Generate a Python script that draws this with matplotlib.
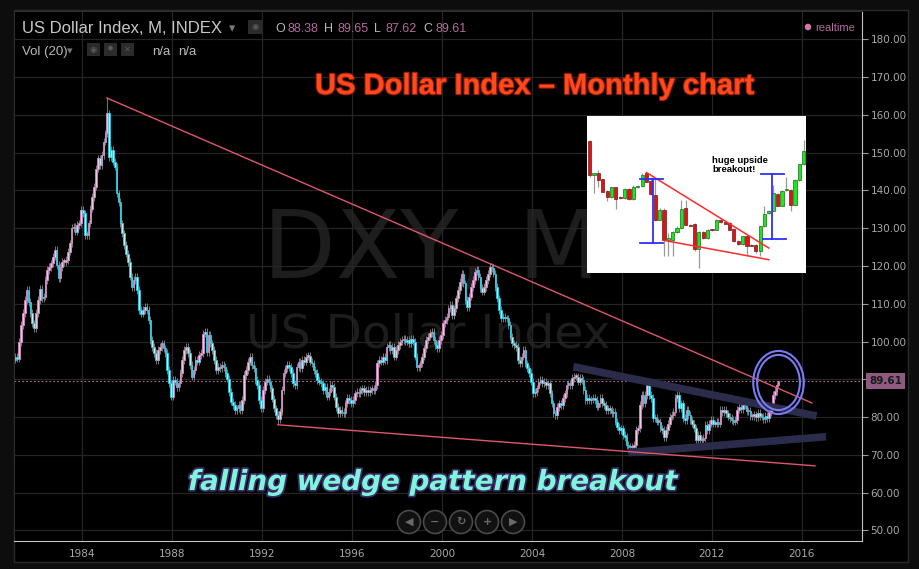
import numpy as np
import matplotlib.pyplot as plt
import matplotlib.patheffects as pe
from matplotlib.patches import Ellipse, Rectangle, Circle
from matplotlib.transforms import Affine2D

W, H = 920, 569

# DXY monthly closes, Jan 1981 .. Dec 2014
dxy_1980s = [
    96.0, 95.5, 99.9, 104.4, 107.5, 111.0, 113.6, 110.5, 107.5, 104.8, 103.5, 107.5,
    111.0, 114.0, 111.4, 111.9, 116.3, 118.9, 119.8, 120.7, 122.5, 124.2, 120.2, 116.7,
    119.8, 121.1, 121.1, 121.6, 123.8, 126.0, 130.0, 130.4, 129.1, 130.8, 131.3, 134.8,
    133.9, 128.2, 128.2, 131.3, 135.2, 138.3, 141.0, 145.8, 148.5, 146.7, 149.4, 152.9,
    155.1, 160.4, 148.9, 150.7, 147.6, 146.3, 139.2, 137.0, 131.3, 128.6, 125.5, 123.3,
    121.1, 117.2, 114.5, 116.3, 117.2, 113.6, 108.3, 107.4, 108.3, 109.2, 108.3, 105.7,
    100.4, 98.6, 96.9, 95.1, 97.7, 98.6, 99.5, 98.2, 96.9, 92.4, 88.9, 85.4,
    89.8, 89.4, 88.0, 88.9, 91.6, 95.1, 97.7, 98.6, 96.9, 93.8, 90.7, 92.4,
    95.1, 94.7, 96.4, 96.9, 102.1, 102.6, 97.3, 101.7, 99.5, 97.7, 95.1, 92.4,
]
dxy_1990s = [
    93.3, 92.9, 93.8, 93.3, 91.6, 90.2, 86.7, 84.1, 83.2, 81.9, 82.3, 83.2,
    81.9, 84.5, 91.1, 92.4, 94.7, 96.0, 93.8, 92.9, 89.8, 88.5, 84.5, 82.3,
    87.1, 89.4, 90.2, 89.4, 87.6, 84.9, 82.3, 80.5, 79.5, 81.5, 87.2, 91.6,
    92.9, 93.8, 93.3, 91.6, 88.9, 88.5, 93.3, 94.7, 92.9, 95.1, 94.7, 96.0,
    96.2, 94.7, 94.2, 92.5, 91.6, 89.8, 89.4, 88.9, 87.2, 88.0, 85.4, 86.7,
    88.5, 88.0, 85.4, 82.7, 81.0, 81.9, 81.4, 81.0, 83.6, 85.0, 84.5, 83.6,
    84.5, 86.3, 86.7, 86.3, 87.2, 87.6, 86.7, 87.2, 86.7, 87.2, 87.6, 87.2,
    88.5, 94.2, 95.1, 94.7, 96.0, 95.1, 98.6, 99.1, 97.8, 98.6, 96.0, 97.8,
    99.1, 100.0, 100.4, 100.8, 100.0, 100.4, 99.5, 100.6, 100.0, 96.0, 93.3, 93.3,
    94.2, 96.0, 98.2, 100.4, 101.3, 102.2, 102.6, 100.4, 99.1, 98.2, 100.4, 101.7,
]
dxy_2000s = [
    104.8, 105.7, 106.6, 108.8, 109.7, 107.0, 108.8, 111.4, 113.6, 115.8, 118.0, 115.4,
    111.0, 109.2, 111.9, 114.5, 116.3, 118.5, 118.9, 117.2, 114.1, 113.2, 114.5, 116.3,
    118.0, 119.8, 119.4, 118.0, 114.5, 111.4, 108.3, 106.1, 106.6, 106.1, 106.1, 104.4,
    101.3, 99.5, 99.1, 98.6, 95.1, 94.2, 96.0, 97.8, 94.2, 92.9, 91.6, 89.4,
    86.3, 86.7, 87.6, 89.4, 89.8, 88.9, 89.4, 88.5, 88.9, 86.3, 83.6, 81.0,
    80.5, 82.7, 83.6, 83.2, 85.0, 86.3, 88.5, 88.9, 88.5, 90.3, 90.7, 90.7,
    89.4, 90.3, 89.8, 87.2, 84.5, 85.0, 84.5, 84.7, 85.0, 84.5, 82.8, 83.6,
    85.0, 83.6, 83.2, 81.9, 82.3, 81.9, 81.0, 81.4, 78.8, 77.5, 76.6, 77.0,
    75.3, 74.8, 72.6, 72.2, 72.0, 72.2, 72.6, 76.6, 77.0, 83.2, 85.8, 83.6,
    85.8, 88.5, 85.8, 85.0, 79.7, 79.7, 78.8, 78.8, 77.0, 76.6, 74.8, 76.6,
]
dxy_2010s = [
    78.3, 80.1, 80.5, 81.4, 85.0, 85.8, 82.3, 83.6, 79.7, 79.2, 81.9, 80.5,
    79.2, 78.3, 77.0, 73.9, 75.3, 73.9, 73.9, 74.4, 77.9, 76.6, 78.3, 79.2,
    78.3, 78.3, 78.8, 78.3, 81.9, 81.4, 81.9, 81.0, 80.1, 79.7, 79.2, 78.8,
    79.2, 82.0, 82.8, 82.1, 83.3, 83.1, 81.5, 81.6, 80.2, 80.2, 80.7, 80.0,
    81.2, 80.2, 80.1, 79.5, 80.4, 79.8, 81.4, 82.5, 85.9, 86.9, 88.38, 89.61,
]
first_open = 95.2
peak_high = 164.7            # Feb 1985 high
low_1992 = 78.2              # Sep 1992 low
last_open, last_high, last_low, last_close = 88.38, 89.65, 87.62, 89.61

year_ticks = [1984, 1988, 1992, 1996, 2000, 2004, 2008, 2012, 2016]
price_ticks = list(range(50, 190, 10))

# drawn trendlines: (years, prices)
upper_wedge = ([1985.11, 2016.44], [164.46, 83.75])
lower_wedge = ([1992.71, 2016.58], [77.96, 67.10])
upper_band = ([2005.84, 2016.65], [93.34, 80.29])
lower_band = ([2008.28, 2017.07], [70.58, 74.81])

# inset picture: textbook falling wedge candles
ins_open = [81.6, 61.0, 62.4, 58.4, 51.6, 47.6, 53.6, 47.6, 47.0, 52.4,
            46.4, 53.6, 54.4, 62.0, 57.6, 49.0, 34.0, 40.0, 21.6, 22.0,
            26.4, 29.0, 40.8, 31.0, 31.6, 16.4, 26.8, 23.0, 28.0, 28.0,
            34.0, 32.4, 32.0, 28.4, 21.4, 19.4, 24.0, 19.0, 19.0, 15.0,
            30.0, 38.0, 39.4, 49.6, 42.4, 51.8, 52.0, 43.0, 58.0, 67.4]
ins_close = [61.0, 62.4, 58.0, 51.0, 47.6, 53.6, 46.4, 47.0, 52.4, 46.4,
             53.6, 54.4, 61.0, 57.0, 49.6, 34.0, 40.0, 21.6, 23.0, 26.4,
             29.0, 40.4, 31.0, 30.4, 16.4, 26.8, 23.0, 28.0, 27.6, 34.0,
             32.4, 31.6, 28.0, 21.0, 19.4, 24.0, 18.4, 18.4, 15.0, 30.0,
             37.4, 39.4, 50.4, 42.4, 51.4, 52.4, 43.0, 58.0, 67.4, 75.6]
ins_high = [82.0, 62.4, 64.0, 58.4, 52.0, 54.0, 54.0, 48.0, 53.0, 53.0,
            55.0, 55.0, 62.0, 62.4, 60.0, 59.0, 41.0, 41.0, 26.0, 27.0,
            30.0, 46.0, 46.0, 31.4, 32.0, 27.0, 27.2, 28.4, 28.4, 34.4,
            34.4, 32.8, 32.4, 28.8, 21.8, 24.4, 24.4, 19.4, 19.4, 30.4,
            42.0, 39.8, 55.0, 50.0, 51.8, 60.0, 52.4, 58.4, 67.8, 82.0]
ins_low = [60.0, 50.0, 54.0, 51.0, 45.0, 47.0, 40.4, 46.6, 46.6, 46.0,
           46.0, 53.4, 53.6, 56.6, 49.0, 33.0, 33.6, 12.0, 12.0, 12.0,
           26.0, 28.6, 30.6, 30.0, 15.0, 5.0, 22.6, 22.6, 27.2, 27.6,
           32.0, 31.2, 27.6, 20.6, 19.0, 19.0, 12.6, 18.0, 14.0, 12.0,
           29.6, 37.6, 39.0, 42.0, 42.0, 51.4, 39.0, 42.6, 57.6, 67.0]
ins_upper = ([13.0, 41.0], [62.4, 17.0])
ins_lower = ([17.0, 41.0], [21.6, 10.0])

fig = plt.figure(figsize=(W / 100, H / 100), dpi=100, facecolor='#0d0d0d')
# pixel transform, origin top-left
pix = Affine2D().scale(1 / 100, -1 / 100).translate(0, H / 100) + fig.dpi_scale_trans

fig.add_artist(Rectangle((14, 10), 894, 552, transform=pix, facecolor='black',
                         edgecolor='#2a2a2a', lw=1, zorder=-1))

ax = fig.add_axes([14 / W, 1 - 541 / H, (862 - 14) / W, (541 - 10.7) / H])
ax.set_facecolor('black')
ax.set_xlim(1980.98, 2018.67)
ax.set_ylim(47.2, 187.57)

closes = np.array(dxy_1980s + dxy_1990s + dxy_2000s + dxy_2010s)
opens = np.r_[first_open, closes[:-1]]
opens[-1] = last_open
t = 1981 + (np.arange(len(closes)) + 0.5) / 12
wick = 1.0
highs = np.maximum(opens, closes) + wick
lows = np.minimum(opens, closes) - wick
highs[-1], lows[-1] = last_high, last_low
highs[np.argmax(closes)] = peak_high
lows[np.argmin(closes[:200])] = low_1992

ax.vlines(t, lows, highs, color='#8c8c8c', lw=0.6, zorder=2)
up = closes >= opens
body_bottom = np.minimum(opens, closes)
body_h = np.maximum(np.abs(closes - opens), 0.4)
ax.bar(t[up], body_h[up], bottom=body_bottom[up], width=0.07,
       color='#efc3e4', edgecolor='#d08cc2', lw=0.6, zorder=3)
ax.bar(t[~up], body_h[~up], bottom=body_bottom[~up], width=0.07,
       color='#b4f4fb', edgecolor='#2cc8e2', lw=0.6, zorder=3)

# last price line + label
ax.axhline(last_close, color='#b06a92', lw=0.8, ls=(0, (1.5, 2)), zorder=1.5)
ax.annotate(f'{last_close:.2f}', xy=(1.0, last_close), xycoords=('axes fraction', 'data'),
            xytext=(5, 0), textcoords='offset points', va='center', ha='left',
            fontsize=7.5, color='#1a1a1a', fontweight='bold', annotation_clip=False,
            bbox=dict(boxstyle='square,pad=0.3', fc='#8e5a80', ec='none'), zorder=6)

# trendlines
ax.plot(*upper_band, color='#2b2b4a', lw=5.5, solid_capstyle='butt', zorder=4)
ax.plot(*lower_band, color='#2b2b4a', lw=5.5, solid_capstyle='butt', zorder=4)
ax.plot(*upper_wedge, color='#e0566c', lw=1.0, zorder=5)
ax.plot(*lower_wedge, color='#e0566c', lw=1.0, zorder=5)
for w_, h_ in [(2.25, 16.7), (1.90, 14.6)]:
    ax.add_patch(Ellipse((2014.96, 89.16), w_, h_, fill=False, ec='#7a7af2', lw=1.5, zorder=6))

# axes styling
ax.set_xticks(year_ticks)
ax.set_xticklabels([str(y) for y in year_ticks])
ax.yaxis.tick_right()
ax.set_yticks(price_ticks)
# the last-price tag hides the 90.00 label
ax.set_yticklabels(['' if v == 90 else f'{v:.2f}' for v in price_ticks])
ax.tick_params(axis='x', length=0, pad=6, labelsize=7.5, labelcolor='#a8a8a8')
ax.tick_params(axis='y', length=4, width=0.8, color='#9a9a9a', pad=2,
               labelsize=7.5, labelcolor='#a8a8a8')
ax.grid(True, color='#252525', lw=0.9)
ax.set_axisbelow(True)
for s in ['bottom', 'right']:
    ax.spines[s].set_color('#c4c4c4')
for s in ['top', 'left']:
    ax.spines[s].set_color('#2e2e2e')

# watermark
ax.text(263, 278, 'DXY, M', transform=pix, fontsize=68, color='#1d1d1d',
        family='DejaVu Sans', va='baseline', zorder=0.1)
ax.text(246, 348, 'US Dollar Index', transform=pix, fontsize=34, color='#1d1d1d',
        family='DejaVu Sans', va='baseline', zorder=0.1)

# header
hf = ['Liberation Sans', 'DejaVu Sans']
fig.text(22, 33, 'US Dollar Index, M, INDEX', transform=pix, fontsize=12,
         color='#c8c8c8', family=hf, va='baseline')
fig.text(229, 32, '\u25be', transform=pix, fontsize=9, color='#777777', va='baseline')
fig.add_artist(Rectangle((248, 20), 14, 14, transform=pix, fc='#2b2b2b', ec='none'))
fig.text(255, 27, '\u25c9', transform=pix, fontsize=6, color='#5a5a5a', ha='center', va='center')
ohlc = [('O', 275, '88.38', 288), ('H', 324, '89.65', 338),
        ('L', 374, '87.62', 386), ('C', 423, '89.61', 435)]
for lab, lx, val, vx in ohlc:
    fig.text(lx, 32, lab, transform=pix, fontsize=9, color='#b8b8b8', family=hf, va='baseline')
    fig.text(vx, 32, val, transform=pix, fontsize=9, color='#b66a9c', family=hf, va='baseline')
fig.text(22, 55, 'Vol (20)', transform=pix, fontsize=9.5, color='#b8b8b8', family=hf, va='baseline')
fig.text(67, 54, '\u25be', transform=pix, fontsize=8, color='#777777', va='baseline')
for bx, sym in [(87, '\u25c9'), (104, '\u2739'), (121, '\u2715')]:
    fig.add_artist(Rectangle((bx, 43), 13, 13, transform=pix, fc='#2b2b2b', ec='none'))
    fig.text(bx + 6.5, 49.5, sym, transform=pix, fontsize=6, color='#5a5a5a',
             ha='center', va='center')
fig.text(152, 55, 'n/a', transform=pix, fontsize=9.5, color='#b8b8b8', family=hf, va='baseline')
fig.text(178, 55, 'n/a', transform=pix, fontsize=9.5, color='#b8b8b8', family=hf, va='baseline')
fig.add_artist(Circle((808, 27), 3.3, transform=pix, fc='#d077aa', ec='none'))
fig.text(815, 31, 'realtime', transform=pix, fontsize=8, color='#b46c9e', family=hf, va='baseline')

# navigation buttons
for cx, sym in zip([409, 435, 461, 487, 513], ['\u25c0', '\u2212', '\u21bb', '+', '\u25b6']):
    fig.add_artist(Circle((cx, 522), 11.5, transform=pix, fc='#111111', ec='#4a4a4a', lw=1.2))
    fig.text(cx, 522, sym, transform=pix, fontsize=8, color='#6a6a6a', ha='center',
             va='center', fontweight='bold')

# titles
fig.text(315, 94, 'US Dollar Index \u2013 Monthly chart', transform=pix, fontsize=21,
         fontweight='bold', color='#ff4a1e', family=hf, va='baseline', zorder=10,
         path_effects=[pe.withStroke(linewidth=1.6, foreground='#9c1a00')])
fig.text(188, 490, 'falling wedge pattern breakout', transform=pix, fontsize=20,
         fontweight='bold', style='italic', color='#80f5dc', family='DejaVu Sans',
         va='baseline', zorder=10,
         path_effects=[pe.withStroke(linewidth=2.5, foreground='#3a2a66')])

# inset
ins = fig.add_axes([587 / W, 1 - 273 / H, 219 / W, 157 / H], zorder=5)
ins.set_facecolor('white')
ins.set_xticks([])
ins.set_yticks([])
for s in ins.spines.values():
    s.set_visible(False)
ins.set_xlim(-0.6, 49.5)
ins.set_ylim(2, 96.4)
idx = np.arange(len(ins_open))
io, ic = np.array(ins_open), np.array(ins_close)
ins.vlines(idx, ins_low, ins_high, color='#9a9a9a', lw=0.9, zorder=2)
g = ic >= io
ins.bar(idx[g], np.maximum(ic - io, 0.6)[g], bottom=io[g], width=0.72,
        color='#1fe41f', edgecolor='#1d6a1d', lw=0.5, zorder=3)
ins.bar(idx[~g], np.maximum(io - ic, 0.6)[~g], bottom=ic[~g], width=0.72,
        color='#e31212', edgecolor='#6a1d1d', lw=0.5, zorder=3)
ins.plot(*ins_upper, color='#ff2a2a', lw=1.1, zorder=4)
ins.plot(*ins_lower, color='#ff2a2a', lw=1.1, zorder=4)
blue = '#2e2eff'
ins.plot([14.4, 14.4], [58.6, 19.8], color=blue, lw=1.3, zorder=5)
ins.plot([11.6, 16.9], [58.6, 58.6], color=blue, lw=1.3, zorder=5)
ins.plot([11.6, 16.9], [19.8, 19.8], color=blue, lw=1.3, zorder=5)
ins.plot([41.8, 41.8], [61.6, 22.6], color=blue, lw=1.3, zorder=5)
ins.plot([39.1, 44.4], [61.6, 61.6], color=blue, lw=1.3, zorder=5)
ins.plot([39.7, 45.0], [22.6, 22.6], color=blue, lw=1.3, zorder=5)
ins.text(28.0, 67, 'huge upside\nbreakout!', fontsize=6.8, fontweight='bold',
         family=hf, color='black', va='center', ha='left', linespacing=1.0)

fig.savefig('out.png', dpi=100, facecolor=fig.get_facecolor())
